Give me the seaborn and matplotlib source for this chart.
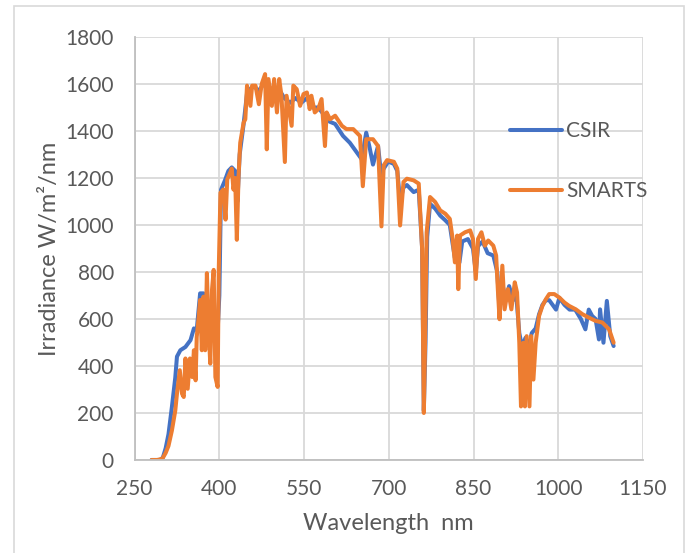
import numpy as np
import pandas as pd
import matplotlib
matplotlib.use("Agg")
import matplotlib.pyplot as plt
import seaborn as sns
from matplotlib.patches import Rectangle

# ---- data ----
csir_wl = [280, 295, 300, 305, 310, 316, 322, 325, 331, 340, 349, 355, 360, 366, 372, 378, 384, 388,
           392, 396, 400, 403, 410, 416, 422, 428, 432, 436, 443, 449, 455, 462, 470, 478, 487, 495,
           505, 515, 525, 535, 545, 555, 565, 575, 585, 595, 605, 619, 631, 646, 652, 660, 666, 672,
           681, 687, 690, 699, 709, 715, 720, 726, 732, 744, 753, 759, 762, 765, 768, 773, 782, 791,
           800, 808, 813, 817, 821, 825, 830, 840, 849, 854, 858, 866, 875, 885, 892, 896, 901, 907,
           913, 920, 925, 931, 936, 942, 948, 953, 960, 966, 972, 978, 984, 990, 996, 1002, 1011,
           1020, 1030, 1040, 1048, 1054, 1060, 1066, 1072, 1074, 1080, 1086, 1092, 1098]
csir_val = [0, 0, 10, 50, 110, 225, 350, 440, 467, 481, 510, 560, 553, 709, 709, 667, 595, 650,
            560, 500, 700, 1150, 1190, 1230, 1245, 1230, 1100, 1300, 1430, 1560, 1580, 1590, 1570,
            1600, 1590, 1560, 1580, 1540, 1520, 1540, 1520, 1540, 1500, 1500, 1470, 1440, 1430, 1379,
            1350, 1300, 1280, 1393, 1330, 1257, 1336, 1200, 1236, 1270, 1260, 1230, 1100, 1160, 1170,
            1140, 1150, 900, 210, 500, 950, 1090, 1070, 1040, 1020, 1000, 920, 860, 940, 840, 930,
            940, 900, 800, 910, 930, 880, 870, 800, 640, 750, 680, 740, 680, 720, 540, 480, 520, 480,
            540, 560, 620, 660, 680, 680, 660, 640, 690, 660, 640, 640, 600, 556, 640, 613, 600, 513,
            641, 499, 677, 527, 485]

smarts_wl = [280, 290, 299, 305, 310, 316, 322, 325, 330, 334, 337, 340, 344, 348, 352, 355, 358,
             360, 363, 366, 369, 372, 375, 378, 381, 384, 387, 390, 393, 397, 399, 402, 407, 411,
             414, 419, 422, 425, 428, 431, 434, 437, 443, 446, 449, 455, 458, 464, 470, 475, 481,
             484, 487, 493, 497, 502, 506, 510, 516, 519, 523, 528, 531, 537, 543, 549, 555, 560,
             563, 569, 575, 581, 587, 590, 596, 605, 617, 625, 637, 649, 654, 660, 672, 681, 687,
             691, 697, 709, 715, 720, 726, 732, 744, 753, 759, 762, 764, 767, 773, 782, 791, 800,
             808, 813, 817, 821, 823, 826, 835, 844, 849, 854, 858, 864, 870, 876, 885, 890, 893,
             896, 901, 905, 911, 917, 923, 927, 931, 934, 938, 941, 944, 949, 952, 956, 960, 966,
             972, 978, 984, 993, 1002, 1011, 1019, 1031, 1043, 1054, 1066, 1078, 1090, 1098]
smarts_val = [0, 0, 5, 30, 60, 125, 210, 282, 382, 282, 268, 432, 303, 432, 353, 467, 339, 524,
              595, 681, 467, 695, 467, 795, 553, 410, 723, 809, 353, 311, 809, 1137, 1151, 1023,
              1194, 1222, 1240, 1151, 1200, 937, 1208, 1350, 1436, 1450, 1593, 1507, 1593, 1593,
              1514, 1600, 1642, 1322, 1621, 1507, 1621, 1479, 1621, 1550, 1268, 1550, 1493, 1422,
              1593, 1578, 1507, 1557, 1564, 1493, 1550, 1479, 1493, 1536, 1336, 1479, 1450, 1465,
              1422, 1408, 1408, 1379, 1165, 1365, 1365, 1336, 994, 1254, 1276, 1269, 1240, 998,
              1183, 1197, 1190, 1176, 898, 200, 470, 969, 1119, 1098, 1062, 1048, 1026, 941, 841,
              955, 727, 955, 969, 977, 941, 770, 941, 969, 912, 934, 912, 870, 727, 599, 827, 641,
              727, 641, 756, 713, 499, 228, 499, 228, 527, 228, 527, 342, 499, 613, 656, 684, 706,
              706, 691, 670, 656, 641, 620, 606, 592, 585, 556, 499]

series_names = ["CSIR", "SMARTS"]
x_ticks = [250, 400, 550, 700, 850, 1000, 1150]
y_ticks = [0, 200, 400, 600, 800, 1000, 1200, 1400, 1600, 1800]

df = pd.concat([
    pd.DataFrame({"Wavelength": csir_wl, "Irradiance": csir_val, "Source": series_names[0]}),
    pd.DataFrame({"Wavelength": smarts_wl, "Irradiance": smarts_val, "Source": series_names[1]}),
], ignore_index=True)

sns.set_theme(style="white")
plt.rcParams['font.family'] = ['Lato', 'DejaVu Sans']
text_color = "#595959"
grid_color = "#D9D9D9"

fig = plt.figure(figsize=(6.92, 5.53), dpi=100)
ax = fig.add_axes([0.1945, 0.1682, 0.9292 - 0.1945, 0.9331 - 0.1682])

sns.lineplot(data=df, x="Wavelength", y="Irradiance", hue="Source", sort=False,
             palette={"CSIR": "#4472C4", "SMARTS": "#ED7D31"}, linewidth=2.9, ax=ax,
             estimator=None, legend=True)

ax.set_xlim(250, 1150)
ax.set_ylim(0, 1800)
ax.set_xticks(x_ticks)
ax.set_yticks(y_ticks)
ax.grid(True, color=grid_color, linewidth=1.3)
ax.set_axisbelow(True)
for s in ["top", "right"]:
    ax.spines[s].set_visible(False)
for s in ["left", "bottom"]:
    ax.spines[s].set_color("#BFBFBF")
    ax.spines[s].set_linewidth(1.3)
ax.tick_params(axis="both", length=0, labelsize=15, labelcolor=text_color)
ax.tick_params(axis="y", pad=15)
ax.tick_params(axis="x", pad=14)

ax.set_xlabel("Wavelength  nm", fontsize=17, color=text_color, labelpad=10)
ax.set_ylabel("Irradiance W/m\u00b2/nm", fontsize=17, color=text_color, labelpad=4)

handles, labels = ax.get_legend_handles_labels()
leg = ax.legend(handles, labels, loc="center left", bbox_to_anchor=(510 / 692, 1 - 161 / 553),
                bbox_transform=fig.transFigure, frameon=False, fontsize=15,
                handlelength=2.5, handletextpad=0.2, labelspacing=1.9, borderpad=0,
                borderaxespad=0)
for t in leg.get_texts():
    t.set_color(text_color)
for h in leg.get_lines():
    h.set_linewidth(2.9)

# outer chart border
fig.patches.append(Rectangle((14 / 692, -0.05), (684 - 14) / 692, 1 - 6 / 553 + 0.05,
                             transform=fig.transFigure, fill=False, edgecolor=grid_color,
                             linewidth=1.2))

fig.savefig("out.png", dpi=100)
